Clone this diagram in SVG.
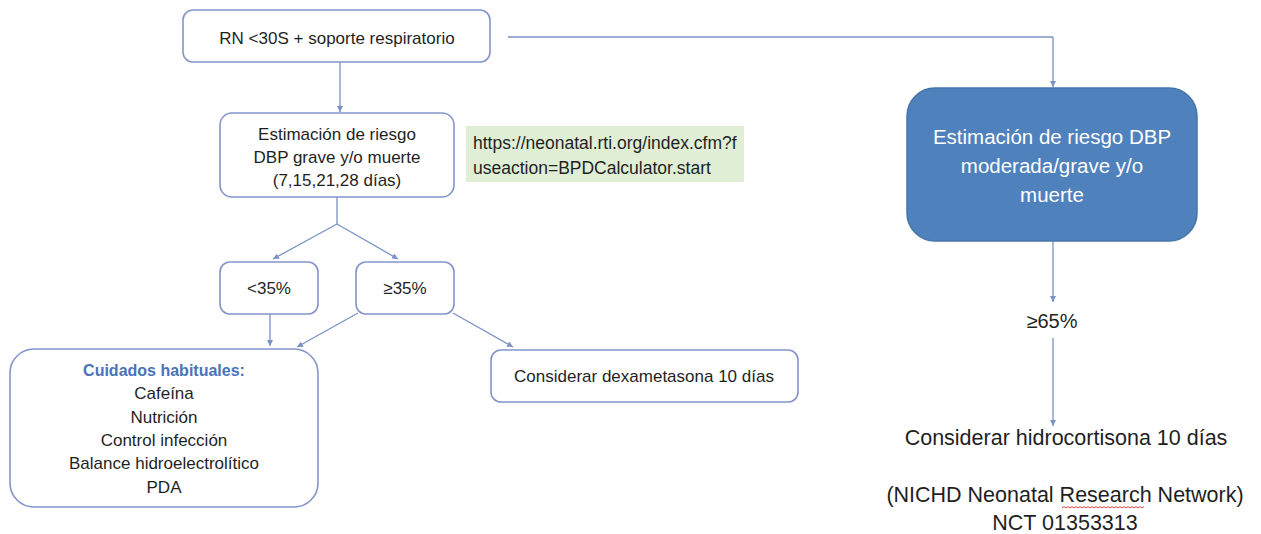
<svg xmlns="http://www.w3.org/2000/svg" width="1261" height="534" viewBox="0 0 1261 534">
<style>
  .box{fill:#ffffff;stroke:#8495c9;stroke-width:1.6}
  .t{font-family:"Liberation Sans",Arial,sans-serif;font-size:17px;fill:#1f1f1f;text-anchor:middle}
  .url{font-family:"Liberation Sans",Arial,sans-serif;font-size:17.5px;fill:#1f1f1f}
  .w{font-family:"Liberation Sans",Arial,sans-serif;font-size:20.5px;fill:#ffffff;text-anchor:middle}
  .r{font-family:"Liberation Sans",Arial,sans-serif;font-size:21.5px;fill:#1f1f1f;text-anchor:middle}
  .hd{font-family:"Liberation Sans",Arial,sans-serif;font-size:16px;font-weight:bold;fill:#4a72b8;text-anchor:middle}
  .c{fill:none;stroke:#7b92c4;stroke-width:1.3;marker-end:url(#ah)}
  .cn{fill:none;stroke:#7b92c4;stroke-width:1.3}
</style>
<defs>
  <marker id="ah" markerUnits="userSpaceOnUse" markerWidth="7" markerHeight="7" refX="6" refY="3" orient="auto">
    <path d="M0,0 L6,3 L0,6 z" fill="#7b92c4"/>
  </marker>
</defs>
<rect width="1261" height="534" fill="#ffffff"/>

<g id="connectors">
  <path class="c" d="M340,62 L340,112"/>
  <path class="cn" d="M337,197 L337,224"/>
  <path class="c" d="M337,224 L273,259"/>
  <path class="c" d="M337,224 L398,259"/>
  <path class="c" d="M270,314 L270,346"/>
  <path class="c" d="M358,313 L297,347"/>
  <path class="c" d="M453,313 L513,347"/>
  <path class="cn" d="M508,37 L1053,37"/>
  <path class="c" d="M1053,37 L1053,87"/>
  <path class="c" d="M1053,241 L1053,302"/>
  <path class="c" d="M1053,338 L1053,426"/>
</g>

<g id="n1">
  <rect class="box" x="183" y="10" width="307" height="52" rx="10"/>
  <text class="t" x="337" y="44">RN &lt;30S + soporte respiratorio</text>
</g>

<g id="n2">
  <rect class="box" x="220" y="113" width="234" height="84" rx="12"/>
  <text class="t" x="337" y="140">Estimación de riesgo</text>
  <text class="t" x="337" y="163">DBP grave y/o muerte</text>
  <text class="t" x="337" y="186">(7,15,21,28 días)</text>
</g>

<g id="url">
  <rect x="466" y="126" width="278" height="56" fill="#e0eed6"/>
  <text class="url" x="473" y="149">https://neonatal.rti.org/index.cfm?f</text>
  <text class="url" x="473" y="174">useaction=BPDCalculator.start</text>
</g>

<g id="lt35">
  <rect class="box" x="220" y="262" width="98" height="52" rx="10"/>
  <text class="t" x="269" y="294">&lt;35%</text>
</g>

<g id="ge35">
  <rect class="box" x="356" y="262" width="98" height="52" rx="10"/>
  <text class="t" x="405" y="294">≥35%</text>
</g>

<g id="cuidados">
  <rect class="box" x="10" y="349" width="308" height="158" rx="24"/>
  <text class="hd" x="164" y="376">Cuidados habituales:</text>
  <text class="t" x="164" y="399">Cafeína</text>
  <text class="t" x="164" y="423">Nutrición</text>
  <text class="t" x="164" y="446">Control infección</text>
  <text class="t" x="164" y="469">Balance hidroelectrolítico</text>
  <text class="t" x="164" y="493">PDA</text>
</g>

<g id="dexa">
  <rect class="box" x="491" y="350" width="307" height="52" rx="10"/>
  <text class="t" x="644" y="382">Considerar dexametasona 10 días</text>
</g>

<g id="riesgo">
  <rect x="907" y="88" width="290" height="153" rx="28" fill="#4f81bd" stroke="#4675ab" stroke-width="1.5"/>
  <text class="w" x="1052" y="144">Estimación de riesgo DBP</text>
  <text class="w" x="1052" y="173">moderada/grave y/o</text>
  <text class="w" x="1052" y="202">muerte</text>
</g>

<g id="ge65">
  <text class="r" x="1052" y="328" style="font-size:20px">≥65%</text>
</g>

<g id="hidro">
  <text class="r" x="1066" y="445">Considerar hidrocortisona 10 días</text>
</g>

<g id="ref">
  <text class="r" x="1065" y="502">(NICHD Neonatal Research Network)</text>
  <text class="r" x="1065" y="530">NCT 01353313</text>
  <path d="M1062,508 l2,-1.5 l2,1.5 l2,-1.5 l2,1.5 l2,-1.5 l2,1.5 l2,-1.5 l2,1.5 l2,-1.5 l2,1.5 l2,-1.5 l2,1.5 l2,-1.5 l2,1.5 l2,-1.5 l2,1.5 l2,-1.5 l2,1.5 l2,-1.5 l2,1.5 l2,-1.5 l2,1.5 l2,-1.5 l2,1.5 l2,-1.5 l2,1.5 l2,-1.5 l2,1.5 l2,-1.5 l2,1.5 l2,-1.5 l2,1.5 l2,-1.5 l2,1.5 l2,-1.5 l2,1.5 l2,-1.5 l2,1.5 l2,-1.5 l2,1.5 l2,-1.5" fill="none" stroke="#e03030" stroke-width="0.9"/>
</g>
</svg>
